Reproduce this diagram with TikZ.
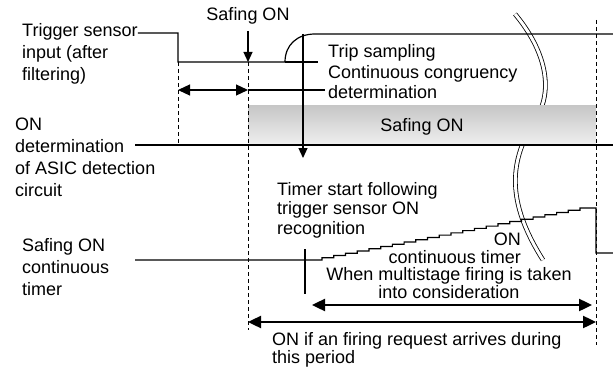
\documentclass[tikz,border=0pt]{standalone}
\usepackage{fontspec}
\setmainfont{Liberation Sans}
\usetikzlibrary{arrows.meta,positioning}
\begin{document}
\begin{tikzpicture}[x=1pt,y=-1pt]
% Styles
\tikzset{label text/.style={inner sep=0pt,align=left,font=\fontsize{18}{22}\selectfont}}
\tikzset{signal/.style={line width=1.2pt}}
\tikzset{guide/.style={line width=0.9pt,dash pattern=on 4pt off 3pt}}
\tikzset{mark arrow/.style={line width=1.2pt,-{Triangle[length=10pt,width=9pt]}}}
\tikzset{span/.style={line width=2.4pt,{Triangle[length=13pt,width=12pt]}-{Triangle[length=13pt,width=12pt]}}}
\useasboundingbox (0,0) rectangle (613,369);

% the labels (base = last line)
\node[label text,anchor=base west] (trig) at (22,81) {Trigger sensor\\input (after\\filtering)};
\node[label text,anchor=base west] (asic) at (15,196) {ON\\determination\\of ASIC detection\\circuit};
\node[label text,anchor=base west] (sontimer) at (22,295) {Safing ON\\continuous\\timer};
\node[label text,anchor=base] (safon) at (248,21) {Safing ON};
\node[label text,anchor=base west,font=\fontsize{18}{20}\selectfont] (trip) at (328,98) {Trip sampling\\Continuous congruency\\determination};
\node[label text,anchor=base west,font=\fontsize{18}{19.5}\selectfont] (tstart) at (277,234) {Timer start following\\trigger sensor ON\\recognition};
\node[label text,anchor=base east,align=right,font=\fontsize{18}{18}\selectfont] (ontimer) at (521,263) {ON\\continuous timer};
\node[label text,anchor=base,align=center,font=\fontsize{18}{16.5}\selectfont] (multi) at (449,298.5) {When multistage firing is taken\\into consideration};
\node[label text,anchor=base west,font=\fontsize{18}{16.5}\selectfont] (period) at (272,363.5) {ON if an firing request arrives during\\this period};

% break mark
\draw[line width=0.8pt,double,double distance=3pt] (515,14) .. controls (545,50) and (555,90) .. (535,120) .. controls (510,160) and (505,200) .. (543,260);

% Safing ON window
\node[inner sep=0pt,minimum width=348pt,minimum height=40pt,top color=gray!45,bottom color=gray!12,
  font=\fontsize{18}{22}\selectfont,text depth=0pt] (safbox) at (422,125) {Safing ON};

% guides
\draw[guide] (178,62) -- (178,145);
\draw[guide] (248,62) -- (248,330);
\draw[guide] (596,20) -- (596,345);

% trigger sensor input
\draw[signal] (trig.east |- 0,33) -- (178,33) -- (178,62) -- (285,62)
  .. controls (285,45) and (297,34) .. (315,34) -- (613,34);

% ON determination of ASIC
\draw[signal] (135,145) -- (613,145);

% trip sampling leaders
\draw[signal] (285,62) -- (318,62);
\draw[signal,{Triangle[length=12pt,width=11pt]}-{Triangle[length=12pt,width=11pt]}] (178,90) -- (248,90);
\draw[signal,shorten >=3pt] (248,90) -- (trip.west |- 0,90);

% arrows down
\draw[mark arrow,shorten <=6pt] (safon.south) -- (248,62);
\draw[mark arrow] (303,34) -- (303,158);

% Safing ON continuous timer
\draw[signal] (135,260) -- (322,260)
  \foreach \n in {0,...,22} { -- ({322+11.73*\n},{260-2.26*\n}) -- ({322+11.73*\n},{260-2.26*(\n+1)}) }
  -- (596,208) -- (596,253) -- (613,253);
\draw[signal] (305,249) -- (305,294);

% periods
\draw[span] (312,305) -- (592,305);
\draw[span] (248,322) -- (596,322);
\end{tikzpicture}
\end{document}
